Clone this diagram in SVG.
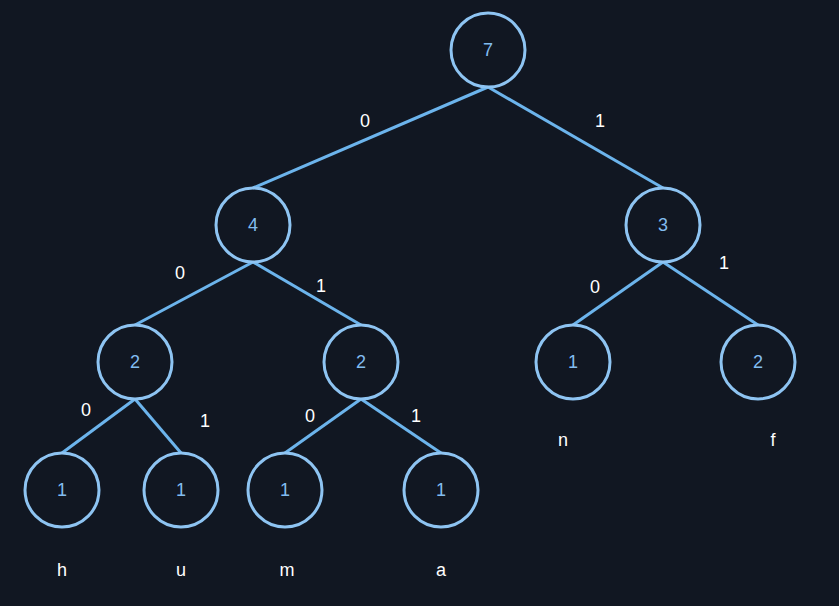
<svg xmlns="http://www.w3.org/2000/svg" width="839" height="606" viewBox="0 0 839 606">
  <style>
    .node circle { fill: none; stroke: #8ec4f2; stroke-width: 3; }
    .node text { fill: #82bcf0; font-family: "Liberation Sans", Arial, sans-serif; font-size: 18px; text-anchor: middle; dominant-baseline: central; }
    .edges line { stroke: #6cb4ec; stroke-width: 3; }
    .lbl { fill: #ffffff; font-family: "Liberation Sans", Arial, sans-serif; font-size: 18px; text-anchor: middle; dominant-baseline: central; }
  </style>
  <rect width="839" height="606" fill="#111722"/>

  <!-- connectors -->
  <g id="edges" class="edges">
    <line x1="488" y1="87" x2="253" y2="188"/>
    <line x1="488" y1="87" x2="663" y2="188"/>
    <line x1="253" y1="262" x2="135" y2="325"/>
    <line x1="253" y1="262" x2="361" y2="325"/>
    <line x1="663" y1="262" x2="573" y2="325"/>
    <line x1="663" y1="262" x2="758" y2="325"/>
    <line x1="135" y1="399" x2="62" y2="453"/>
    <line x1="135" y1="399" x2="181" y2="453"/>
    <line x1="361" y1="399" x2="285" y2="453"/>
    <line x1="361" y1="399" x2="441" y2="453"/>
  </g>

  <!-- edge bit labels -->
  <g id="edge-labels">
    <text class="lbl" x="365" y="121">0</text>
    <text class="lbl" x="600" y="121">1</text>
    <text class="lbl" x="180" y="273">0</text>
    <text class="lbl" x="321" y="286">1</text>
    <text class="lbl" x="595" y="287">0</text>
    <text class="lbl" x="724" y="263">1</text>
    <text class="lbl" x="86" y="410">0</text>
    <text class="lbl" x="205" y="421">1</text>
    <text class="lbl" x="310" y="416">0</text>
    <text class="lbl" x="416" y="416">1</text>
  </g>

  <!-- tree nodes -->
  <g id="n7" class="node"><circle cx="488" cy="50" r="37"/><text x="488" y="50">7</text></g>
  <g id="n4" class="node"><circle cx="253" cy="225" r="37"/><text x="253" y="225">4</text></g>
  <g id="n3" class="node"><circle cx="663" cy="225" r="37"/><text x="663" y="225">3</text></g>
  <g id="n2a" class="node"><circle cx="135" cy="362" r="37"/><text x="135" y="362">2</text></g>
  <g id="n2b" class="node"><circle cx="361" cy="362" r="37"/><text x="361" y="362">2</text></g>
  <g id="n1n" class="node"><circle cx="573" cy="362" r="37"/><text x="573" y="362">1</text></g>
  <g id="n2f" class="node"><circle cx="758" cy="362" r="37"/><text x="758" y="362">2</text></g>
  <g id="n1h" class="node"><circle cx="62" cy="490" r="37"/><text x="62" y="490">1</text></g>
  <g id="n1u" class="node"><circle cx="181" cy="490" r="37"/><text x="181" y="490">1</text></g>
  <g id="n1m" class="node"><circle cx="285" cy="490" r="37"/><text x="285" y="490">1</text></g>
  <g id="n1a" class="node"><circle cx="441" cy="490" r="37"/><text x="441" y="490">1</text></g>

  <!-- symbol labels -->
  <g id="symbols">
    <text class="lbl" x="62" y="570">h</text>
    <text class="lbl" x="181" y="570">u</text>
    <text class="lbl" x="287" y="570">m</text>
    <text class="lbl" x="441" y="570">a</text>
    <text class="lbl" x="563" y="440">n</text>
    <text class="lbl" x="773" y="440">f</text>
  </g>
</svg>
